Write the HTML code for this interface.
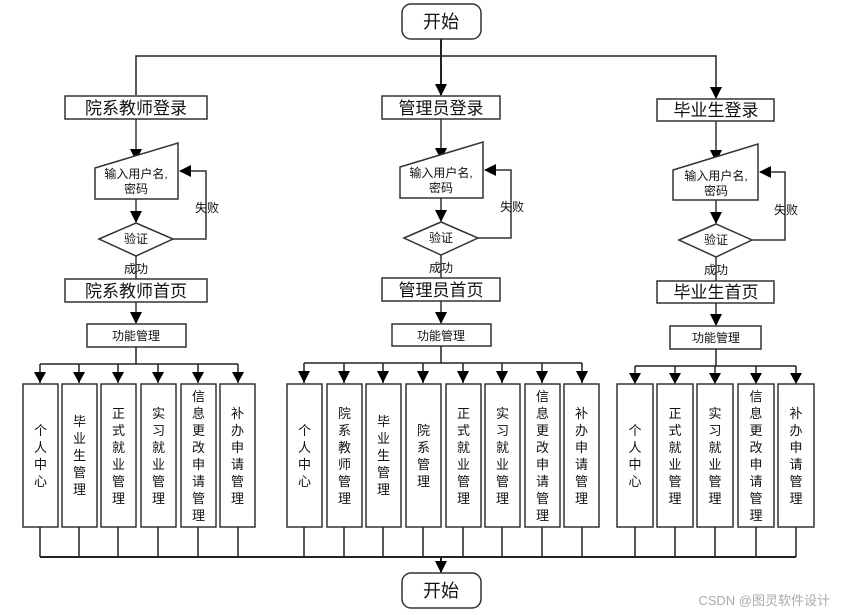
<!DOCTYPE html>
<html><head><meta charset="utf-8"><style>
body{margin:0;width:842px;height:615px;background:#fff;position:relative;overflow:hidden;font-family:"Liberation Sans","Noto Sans CJK SC",sans-serif;}
svg{position:absolute;left:0;top:0}
.v{position:absolute;top:384px;height:143px;display:flex;align-items:center;justify-content:center;font-size:13px;line-height:17px;color:#111;}
.v span{width:14px;text-align:center;word-break:break-all;display:block}
</style></head><body>
<svg width="842" height="615" viewBox="0 0 842 615" font-family="Liberation Sans, Noto Sans CJK SC, sans-serif">
<defs><marker id="a" markerWidth="8" markerHeight="8" refX="7" refY="4" orient="auto" markerUnits="userSpaceOnUse"><path d="M0,0 L8,4 L0,8z" fill="#000"/></marker>
<marker id="b" markerWidth="12" markerHeight="12" refX="11" refY="6" orient="auto" markerUnits="userSpaceOnUse"><path d="M0,0 L12,6 L0,12z" fill="#000"/></marker></defs>
<g stroke="#333" stroke-width="1.5" fill="#fff">
<rect x="402" y="4" width="79" height="35" rx="9"/>
<rect x="402" y="573" width="79" height="35" rx="9"/>
</g>
<g font-size="18" text-anchor="middle" fill="#111"><text x="441" y="28">开始</text><text x="441" y="597">开始</text></g>
<g stroke="#222" stroke-width="1.5" fill="none">
<line x1="441" y1="39" x2="441" y2="95" marker-end="url(#b)" stroke-width="2"/>
<polyline points="136,95 136,56 716,56 716,98" marker-end="url(#b)"/>
</g>
<!-- columns -->
<g id="cols" stroke="#333" stroke-width="1.5" fill="none">
<!-- left -->
<rect x="65" y="96" width="142" height="23" fill="#fff"/>
<line x1="136" y1="119" x2="136" y2="160" marker-end="url(#b)"/>
<polygon points="95,168 178,143 178,199 95,199" fill="#fff"/>
<line x1="136" y1="199" x2="136" y2="222" marker-end="url(#b)"/>
<polygon points="99,239 136,223 173,239 136,256" fill="#fff"/>
<polyline points="173,239 206,239 206,171 180,171" marker-end="url(#b)"/>
<line x1="136" y1="256" x2="136" y2="279"/>
<rect x="65" y="279" width="142" height="23" fill="#fff"/>
<line x1="136" y1="302" x2="136" y2="323" marker-end="url(#b)"/>
<rect x="87" y="324" width="99" height="23" fill="#fff"/>
<!-- middle -->
<rect x="382" y="96" width="118" height="23" fill="#fff"/>
<line x1="441" y1="119" x2="441" y2="159" marker-end="url(#b)"/>
<polygon points="400,167 483,142 483,198 400,198" fill="#fff"/>
<line x1="441" y1="198" x2="441" y2="221" marker-end="url(#b)"/>
<polygon points="404,238 441,222 478,238 441,255" fill="#fff"/>
<polyline points="478,238 511,238 511,170 485,170" marker-end="url(#b)"/>
<line x1="441" y1="255" x2="441" y2="278"/>
<rect x="382" y="278" width="118" height="23" fill="#fff"/>
<line x1="441" y1="301" x2="441" y2="323" marker-end="url(#b)"/>
<rect x="392" y="324" width="99" height="22" fill="#fff"/>
<!-- right -->
<rect x="657" y="99" width="117" height="22" fill="#fff"/>
<line x1="716" y1="121" x2="716" y2="161" marker-end="url(#b)"/>
<polygon points="673,170 758,144 758,200 673,200" fill="#fff"/>
<line x1="716" y1="200" x2="716" y2="223" marker-end="url(#b)"/>
<polygon points="679,240 716,224 752,240 716,257" fill="#fff"/>
<polyline points="752,240 785,240 785,172 760,172" marker-end="url(#b)"/>
<line x1="716" y1="257" x2="716" y2="281"/>
<rect x="657" y="281" width="117" height="22" fill="#fff"/>
<line x1="716" y1="303" x2="716" y2="325" marker-end="url(#b)"/>
<rect x="670" y="326" width="91" height="23" fill="#fff"/>
</g>
<g fill="#111" text-anchor="middle">
<g font-size="17"><text x="136" y="114">院系教师登录</text><text x="136" y="297">院系教师首页</text>
<text x="441" y="114">管理员登录</text><text x="441" y="296">管理员首页</text>
<text x="716" y="116">毕业生登录</text><text x="716" y="298">毕业生首页</text></g>
<g font-size="12"><text x="136" y="178">输入用户名,</text><text x="136" y="193">密码</text><text x="136" y="243">验证</text>
<text x="136" y="273">成功</text><text x="207" y="212">失败</text><text x="136" y="340">功能管理</text>
<text x="441" y="177">输入用户名,</text><text x="441" y="192">密码</text><text x="441" y="242">验证</text>
<text x="441" y="272">成功</text><text x="512" y="211">失败</text><text x="441" y="340">功能管理</text>
<text x="716" y="180">输入用户名,</text><text x="716" y="195">密码</text><text x="716" y="244">验证</text>
<text x="716" y="274">成功</text><text x="786" y="214">失败</text><text x="716" y="342">功能管理</text></g>
</g>
<g stroke="#222" stroke-width="1.5" fill="none">
<!-- branches -->
<line x1="136" y1="347" x2="136" y2="364"/><line x1="40" y1="364" x2="238" y2="364"/>
<line x1="441" y1="346" x2="441" y2="363"/><line x1="304" y1="363" x2="582" y2="363"/>
<line x1="716" y1="349" x2="716" y2="366"/><line x1="635" y1="366" x2="796" y2="366"/>
<g id="drops"></g>
<line x1="40" y1="557" x2="796" y2="557" stroke-width="2"/>
<line x1="441" y1="557" x2="441" y2="572" marker-end="url(#b)" stroke-width="2"/>
</g>
<g stroke="#333" stroke-width="1.5" fill="#fff">
<!-- left boxes -->
<rect x="23" y="384" width="35" height="143"/><rect x="62" y="384" width="35" height="143"/><rect x="101" y="384" width="35" height="143"/><rect x="141" y="384" width="35" height="143"/><rect x="181" y="384" width="35" height="143"/><rect x="220" y="384" width="35" height="143"/>
<rect x="287" y="384" width="35" height="143"/><rect x="327" y="384" width="35" height="143"/><rect x="366" y="384" width="35" height="143"/><rect x="406" y="384" width="35" height="143"/><rect x="446" y="384" width="35" height="143"/><rect x="485" y="384" width="35" height="143"/><rect x="525" y="384" width="35" height="143"/><rect x="564" y="384" width="35" height="143"/>
<rect x="617" y="384" width="36" height="143"/><rect x="657" y="384" width="36" height="143"/><rect x="697" y="384" width="36" height="143"/><rect x="738" y="384" width="36" height="143"/><rect x="778" y="384" width="36" height="143"/>
</g>
<g stroke="#222" stroke-width="1.5" fill="none">
<path d="M40,364V383M79,364V383M118,364V383M158,364V383M198,364V383M238,364V383"/>
<path d="M304,363V383M344,363V383M383,363V383M423,363V383M463,363V383M502,363V383M542,363V383M582,363V383"/>
<path d="M635,366V383M675,366V383M715,366V383M756,366V383M796,366V383"/>
<path d="M40,527V557M79,527V557M118,527V557M158,527V557M198,527V557M238,527V557M304,527V557M344,527V557M383,527V557M423,527V557M463,527V557M502,527V557M542,527V557M582,527V557M635,527V557M675,527V557M715,527V557M756,527V557M796,527V557"/>
</g>
<g fill="#000">
<path d="M34,372h12l-6,11z M73,372h12l-6,11z M112,372h12l-6,11z M152,372h12l-6,11z M192,372h12l-6,11z M232,372h12l-6,11z"/>
<path d="M298,371h12l-6,12z M338,371h12l-6,12z M377,371h12l-6,12z M417,371h12l-6,12z M457,371h12l-6,12z M496,371h12l-6,12z M536,371h12l-6,12z M576,371h12l-6,12z"/>
<path d="M629,373h12l-6,11z M669,373h12l-6,11z M709,373h12l-6,11z M750,373h12l-6,11z M790,373h12l-6,11z"/>
</g>
<text x="830" y="605" font-size="13" fill="#aaa" text-anchor="end">CSDN @图灵软件设计</text>
</svg>
<div class="v" style="left:23px;width:35px"><span>个人中心</span></div>
<div class="v" style="left:62px;width:35px"><span>毕业生管理</span></div>
<div class="v" style="left:101px;width:35px"><span>正式就业管理</span></div>
<div class="v" style="left:141px;width:35px"><span>实习就业管理</span></div>
<div class="v" style="left:181px;width:35px"><span>信息更改申请管理</span></div>
<div class="v" style="left:220px;width:35px"><span>补办申请管理</span></div>
<div class="v" style="left:287px;width:35px"><span>个人中心</span></div>
<div class="v" style="left:327px;width:35px"><span>院系教师管理</span></div>
<div class="v" style="left:366px;width:35px"><span>毕业生管理</span></div>
<div class="v" style="left:406px;width:35px"><span>院系管理</span></div>
<div class="v" style="left:446px;width:35px"><span>正式就业管理</span></div>
<div class="v" style="left:485px;width:35px"><span>实习就业管理</span></div>
<div class="v" style="left:525px;width:35px"><span>信息更改申请管理</span></div>
<div class="v" style="left:564px;width:35px"><span>补办申请管理</span></div>
<div class="v" style="left:617px;width:36px"><span>个人中心</span></div>
<div class="v" style="left:657px;width:36px"><span>正式就业管理</span></div>
<div class="v" style="left:697px;width:36px"><span>实习就业管理</span></div>
<div class="v" style="left:738px;width:36px"><span>信息更改申请管理</span></div>
<div class="v" style="left:778px;width:36px"><span>补办申请管理</span></div>
</body></html>
